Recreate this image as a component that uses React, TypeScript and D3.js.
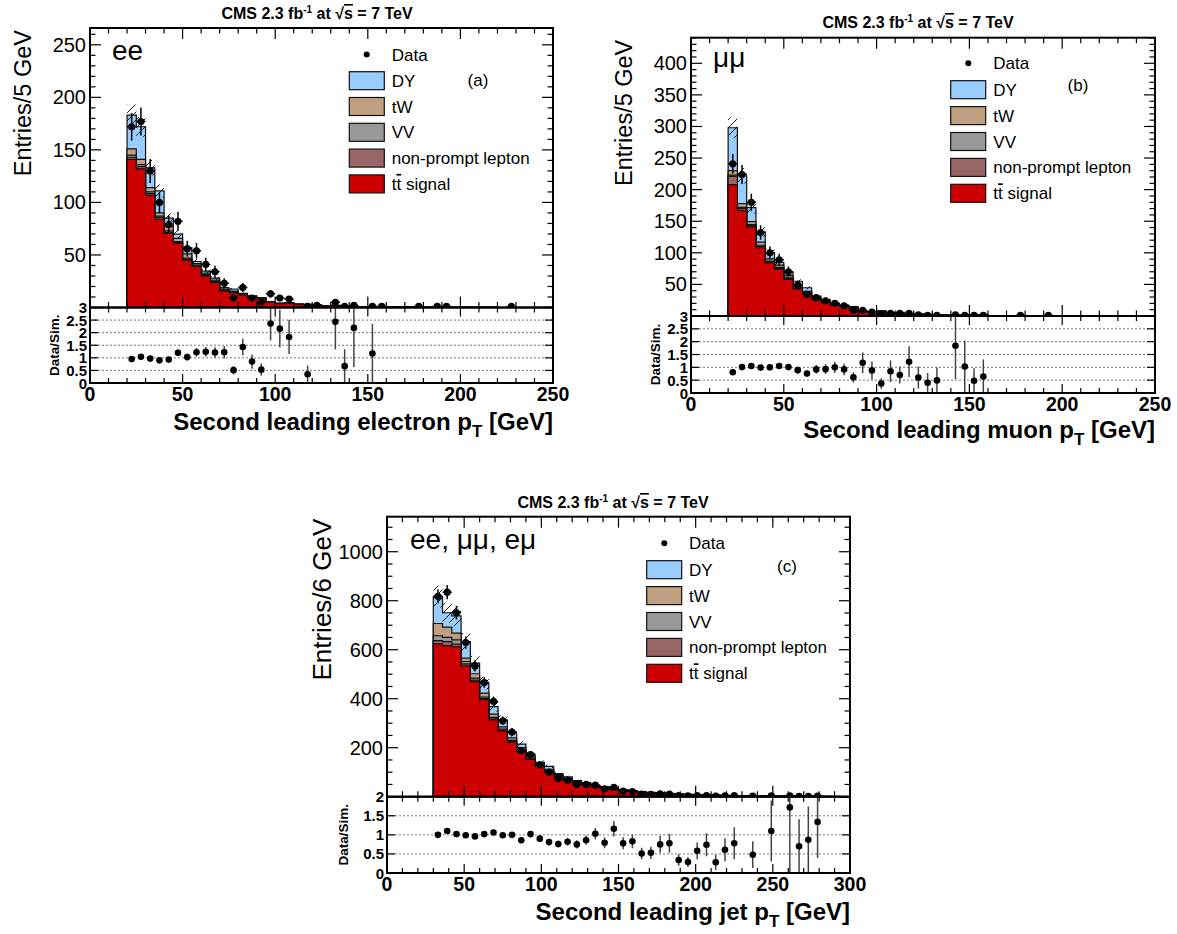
import React from "react";
import * as d3 from "d3";

const FONT = "'Liberation Sans', Arial, Helvetica, sans-serif";
const C_TT = "#cc0000";
const C_NP = "#996666";
const C_VV = "#999999";
const C_TW = "#c0a080";
const C_DY = "#99ccff";

// ---------------- Panel (a): ee, second leading electron pT (5 GeV bins from 20 GeV)
const eeBinStart = 20;
const eeBinWidth = 5;
const eeTtbar = [141, 132, 107, 84, 70.5, 61, 45, 39, 30, 24, 15.7, 14.2, 11.9, 9.6, 8.5, 5.0, 3.6, 3.9, 3.0, 2.6, 2.2, 1.8, 1.9, 1.5, 0.9, 0.9, 0.85, 0.5, 0.4, 0.35, 0.3, 0.25, 0.2, 0.2, 0.15, 0.1, 0.1, 0.08, 0.06, 0.05];
const eeNonPrompt = [2, 2, 1.5, 1.5, 1, 0.8, 0.8, 0.5, 0.5, 0.3, 0.3, 0.2, 0.2, 0.1, 0.1, 0.1];
const eeVV = [2, 2, 1.5, 1.5, 1.5, 1, 1.2, 0.8, 0.7, 0.5, 0.5, 0.4, 0.3, 0.3, 0.2, 0.2, 0.1, 0.1, 0.1, 0.1];
const eeTW = [6, 5, 4, 3, 4, 3, 4, 1.5, 1.5, 1.2, 1, 0.8, 0.6, 0.6, 0.5, 0.4, 0.3, 0.3, 0.2, 0.2, 0.1, 0.1, 0.15];
const eeDY = [32, 31, 19, 21, 8, 4, 6, 2, 2, 2, 1.5, 2, 0.5, 0.4, 0.2, 0, 0.1, 0.1];
const eeData = [172, 177, 130, 100, 79, 82, 56, 54, 41, 34, 23, 9, 19, 9, 5, 13, 9, 8, 0, 1, 2, 0, 5, 1, 2, 0, 1, 1, 0, 0, 0, 1, 0, 1, 1, 0, 0, 0, 0, 0, 0, 1];
const eeRatio = [0.95, 1.04, 0.97, 0.9, 0.93, 1.2, 1.03, 1.22, 1.24, 1.21, 1.22, 0.51, 1.43, 0.85, 0.53, 2.36, 2.16, 1.83, null, 0.35, null, null, 2.43, 0.67, 2.19, null, 1.17];
const eeRatioErr = [0.07, 0.07, 0.08, 0.09, 0.1, 0.13, 0.14, 0.17, 0.19, 0.21, 0.25, 0.17, 0.33, 0.28, 0.24, 0.67, 0.75, 0.68, null, 0.35, null, null, 1.1, 0.67, 1.55, null, 1.17];

// ---------------- Panel (b): mumu, second leading muon pT (5 GeV bins from 20 GeV)
const mmBinStart = 20;
const mmBinWidth = 5;
const mmTtbar = [208, 167, 141, 108, 84, 74, 58, 43, 35, 26, 21.5, 17, 14.8, 12.6, 6.5, 5.8, 7, 4.0, 5.0, 2.9, 2.9, 2.2, 1.8, 1.6, 1.1, 0.97, 2.1, 1.56, 0.6, 0.5, 0.4, 0.3, 0.25, 0.2, 0.15, 0.1, 0.08, 0.06];
const mmNonPrompt = [13, 3, 2, 2, 1.5, 1.5, 1.3, 1, 0.8, 0.5, 0.4, 0.3, 0.2, 0.2, 0.1];
const mmVV = [2, 2, 1.5, 2, 1.5, 1.5, 1.2, 1, 0.8, 0.6, 0.5, 0.4, 0.4, 0.3, 0.2, 0.2, 0.2, 0.1, 0.1, 0.1, 0.1, 0.1];
const mmTW = [7, 6, 5, 5, 3.5, 3.5, 3.3, 3, 2.5, 2, 1.6, 1.3, 1.1, 0.9, 0.5, 0.5, 0.5, 0.4, 0.4, 0.3, 0.3, 0.2, 0.2];
const mmDY = [68, 44, 22, 16, 9.5, 4.5, 5.5, 7, 5.6, 2.4, 1.8, 1, 0.9, 0.8, 0.3, 0.3, 0.4, 0.2, 0.2];
const mmData = [241, 224, 180, 132, 100, 89, 70, 49, 34, 29, 24, 20, 16, 9, 9, 6, 3, 4, 4, 4, 2, 1, 1, 0, 2, 1, 1, 1, 0, 0, 0, 1, 0, 0, 1];
const mmRatio = [0.81, 1.01, 1.05, 0.99, 1.0, 1.05, 1.01, 0.89, 0.76, 0.92, 0.93, 1.0, 0.92, 0.61, 1.18, 0.88, 0.37, 0.85, 0.7, 1.22, 0.6, 0.4, 0.49, null, 1.84, 1.03, 0.48, 0.64];
const mmRatioErr = [0.05, 0.07, 0.08, 0.09, 0.1, 0.11, 0.12, 0.13, 0.13, 0.17, 0.19, 0.22, 0.23, 0.2, 0.4, 0.35, 0.2, 0.42, 0.33, 0.6, 0.43, 0.38, 0.5, null, 1.3, 1.02, 0.48, 0.67];

// ---------------- Panel (c): all channels, second leading jet pT (6 GeV bins from 30 GeV)
const jjBinStart = 30;
const jjBinWidth = 6;
const jjTtbar = [624, 617, 613, 534, 470, 396, 314, 269, 223, 185, 152, 124, 104, 83.5, 70, 56, 50, 40, 35, 28, 25, 21.5, 18, 15.5, 13.3, 11.6, 9.9, 8.6, 7.3, 6.3, 5.4, 4.6, 4.0, 3.4, 2.9, 2.5, 2.1, 1.8, 1.5, 1.4, 1.2, 1.0, 0.9, 0.8, 0.7];
const jjNonPrompt = [13, 16, 10, 8, 6, 5, 4, 3, 3, 2, 2, 1.5, 1, 1, 0.8, 0.7, 0.6, 0.5, 0.4, 0.3, 0.3, 0.3, 0.2, 0.2, 0.2, 0.1, 0.1, 0.1, 0.1, 0.1, 0.1, 0.1];
const jjVV = [20, 17, 17, 10, 8, 6, 6, 4, 4, 4, 3, 2.5, 2, 1.5, 1.5, 1.3, 1.1, 1, 0.9, 0.7, 0.6, 0.5, 0.4, 0.3, 0.3, 0.3, 0.2, 0.2, 0.2, 0.1, 0.1, 0.1, 0.1, 0.1, 0.1, 0.1];
const jjTW = [50, 42, 28, 14, 18, 16, 13, 9, 10, 9, 7, 6, 5, 4, 3.7, 3.5, 3, 2.6, 2.3, 2, 1.6, 1.4, 1.2, 1.0, 0.9, 0.8, 0.7, 0.6, 0.5, 0.4, 0.4, 0.3, 0.3, 0.3, 0.2, 0.2, 0.2, 0.2, 0.1, 0.1, 0.1, 0.1, 0.1, 0.1, 0.1];
const jjDY = [110, 59, 70, 67, 43, 41, 31, 29, 20, 15, 8, 6.5, 12, 4.5, 5, 4.5, 3.3, 1.9, 2.4, 2, 1.5, 1.3, 1.2, 1, 0.8, 0.7, 0.6, 0.5, 0.4, 0.4, 0.3, 0.3, 0.2, 0.2, 0.2, 0.1, 0.1, 0.1, 0.1, 0.1, 0.1, 0.1, 0.1, 0.1, 0.1];
const jjData = [818, 835, 751, 629, 534, 466, 389, 310, 264, 188, 172, 130, 100, 74, 67, 50, 50, 47, 32, 38, 23, 21, 11, 10, 12, 11, 4, 3, 5, 5, 2, 3, 4, 0, 2, 0, 3, 0, 3, 1, 1, 2];
const jjRatio = [1.0, 1.1, 1.02, 0.99, 0.96, 1.02, 1.06, 0.99, 1.0, 0.86, 1.02, 0.9, 0.81, 0.76, 0.82, 0.75, 0.86, 1.03, 0.79, 1.16, 0.78, 0.83, 0.51, 0.53, 0.75, 0.78, 0.34, 0.29, 0.58, 0.74, 0.28, 0.61, 0.78, null, 0.48, null, 1.1, null, 1.72, 0.7, 0.87, 1.34];
const jjRatioErr = [0.04, 0.04, 0.04, 0.04, 0.05, 0.05, 0.06, 0.06, 0.07, 0.07, 0.08, 0.08, 0.09, 0.09, 0.1, 0.11, 0.12, 0.15, 0.14, 0.2, 0.16, 0.18, 0.15, 0.16, 0.22, 0.25, 0.15, 0.13, 0.22, 0.3, 0.2, 0.3, 0.42, null, 0.35, null, 0.8, null, 1.72, 0.71, 0.87, 0.95];

const legendNames = ["DY", "tW", "VV", "non-prompt lepton", "tt signal"];
const legendColors = [C_DY, C_TW, C_VV, C_NP, C_TT];
const UNC = 0.055;

type Cfg = {
  binStart: number; binWidth: number; xMax: number;
  tt: number[]; np: number[]; vv: number[]; tw: number[]; dy: number[];
  data: number[]; ratio: (number | null)[]; ratioErr: (number | null)[];
  left: number; right: number; top: number; mainBottom: number; ratioBottom: number;
  yMax: number; yMajor: number; yMinor: number; rMax: number;
  yTitle: string; yTitleX: number; yTitleSize: number; dataSimX: number;
  xTitle: string; xTitleY: number; xLabelY: number;
  titleX: number; titleY: number;
  chan: string; chanX: number; chanY: number;
  lgMarkerX: number; lgDataY: number; lgBoxX: number; lgFirstTop: number; lgStep: number; lgLabelX: number;
  tag: string; tagX: number; tagY: number; id: string;
};

function Panel({ c }: { c: Cfg }) {
  const x = d3.scaleLinear().domain([0, c.xMax]).range([c.left, c.right]);
  const y = d3.scaleLinear().domain([0, c.yMax]).range([c.mainBottom, c.top]);
  const yr = d3.scaleLinear().domain([0, c.rMax]).range([c.ratioBottom, c.mainBottom]);
  const layers = [c.tt, c.np, c.vv, c.tw, c.dy];
  const colors = [C_TT, C_NP, C_VV, C_TW, C_DY];
  const n = Math.max(...layers.map((l) => l.length));
  const cum: number[][] = layers.map(() => []);
  for (let i = 0; i < n; i++) {
    let s = 0;
    layers.forEach((L, li) => {
      s += L[i] ?? 0;
      cum[li].push(s);
    });
  }
  const edge = (i: number) => c.binStart + i * c.binWidth;
  const area = d3
    .area<number>()
    .curve(d3.curveStepAfter)
    .x((_, i) => x(edge(i)))
    .y0(y(0))
    .y1((v) => y(v));
  const total = cum[4];

  const xMinor = d3.range(0, c.xMax + 1e-6, 10);
  const xMajor = d3.range(0, c.xMax + 1e-6, 50);
  const yMinor = d3.range(0, c.yMax, c.yMinor);
  const yMajorT = d3.range(0, c.yMax, c.yMajor);
  const rTicks = d3.range(0, c.rMax + 1e-6, 0.5);

  const mainClip = `main-${c.id}`;
  const ratioClip = `ratio-${c.id}`;

  return (
    <g fontFamily={FONT}>
      <defs>
        <clipPath id={mainClip}>
          <rect x={c.left} y={c.top} width={c.right - c.left} height={c.mainBottom - c.top} />
        </clipPath>
        <clipPath id={ratioClip}>
          <rect x={c.left} y={c.mainBottom} width={c.right - c.left} height={c.ratioBottom - c.mainBottom} />
        </clipPath>
      </defs>

      {/* stacked histograms */}
      <g clipPath={`url(#${mainClip})`}>
        {[4, 3, 2, 1, 0].map((li) => (
          <path
            key={li}
            d={area([...cum[li], cum[li][n - 1]]) || ""}
            fill={colors[li]}
            stroke="#111"
            strokeWidth={1.2}
          />
        ))}
        {total.map((t, i) =>
          t > 0 ? (
            <rect
              key={"h" + i}
              x={x(edge(i))}
              width={x(edge(i + 1)) - x(edge(i))}
              y={y(t * (1 + UNC))}
              height={y(t * (1 - UNC)) - y(t * (1 + UNC))}
              fill="url(#hatch)"
            />
          ) : null
        )}
        {c.data.map((d, i) => {
          if (!d) return null;
          const cx = x(edge(i) + c.binWidth / 2);
          const e = Math.sqrt(d);
          return (
            <g key={"d" + i}>
              <line x1={cx} x2={cx} y1={y(d + e)} y2={y(Math.max(0, d - e))} stroke="#000" strokeWidth={1.5} />
              <line x1={x(edge(i))} x2={x(edge(i + 1))} y1={y(d)} y2={y(d)} stroke="#000" strokeWidth={1.5} />
              <circle cx={cx} cy={y(d)} r={3.6} fill="#000" />
            </g>
          );
        })}
      </g>

      {/* main frame & ticks */}
      <rect x={c.left} y={c.top} width={c.right - c.left} height={c.mainBottom - c.top} fill="none" stroke="#000" strokeWidth={2} />
      {xMinor.map((v) => {
        const maj = v % 50 === 0;
        const L = maj ? 11 : 5.5;
        return (
          <g key={"xt" + v} stroke="#000" strokeWidth={1.2}>
            <line x1={x(v)} x2={x(v)} y1={c.top} y2={c.top + L} />
            <line x1={x(v)} x2={x(v)} y1={c.mainBottom} y2={c.mainBottom - L} />
          </g>
        );
      })}
      {yMinor.map((v) => {
        const maj = Math.abs(v % c.yMajor) < 1e-6;
        const L = maj ? 11 : 5.5;
        return (
          <g key={"yt" + v} stroke="#000" strokeWidth={1.2}>
            <line x1={c.left} x2={c.left + L} y1={y(v)} y2={y(v)} />
            <line x1={c.right} x2={c.right - L} y1={y(v)} y2={y(v)} />
          </g>
        );
      })}
      {yMajorT.filter((v) => v > 0).map((v) => (
        <text key={"yl" + v} x={c.left - 4} y={y(v) + 7} textAnchor="end" fontSize={20} fill="#000">
          {v}
        </text>
      ))}
      <text
        transform={`translate(${c.yTitleX},${c.top + 2}) rotate(-90)`}
        textAnchor="end"
        fontSize={c.yTitleSize}
        fill="#000"
      >
        {c.yTitle}
      </text>

      {/* title */}
      <text x={c.titleX} y={c.titleY} textAnchor="middle" fontSize={16} fontWeight="bold" fill="#000">
        CMS 2.3 fb<tspan dy={-6} fontSize={10}>-1</tspan>
        <tspan dy={6}> at </tspan>√<tspan style={{ textDecoration: "overline" }}>s</tspan> = 7 TeV
      </text>

      {/* channel label */}
      <text x={c.chanX} y={c.chanY} fontSize={28} fill="#000">
        {c.chan}
      </text>

      {/* legend */}
      <circle cx={c.lgMarkerX} cy={c.lgDataY} r={3} fill="#000" />
      <text x={c.lgLabelX} y={c.lgDataY + 6} fontSize={17} fill="#000">Data</text>
      {legendNames.map((name, i) => {
        const top = c.lgFirstTop + i * c.lgStep;
        return (
          <g key={name}>
            <rect x={c.lgBoxX} y={top} width={35} height={18} fill={legendColors[i]} stroke="#111" strokeWidth={1.2} />
            <text x={c.lgLabelX} y={top + 15} fontSize={17} fill="#000">
              {i === 4 ? (
                <>
                  t<tspan style={{ textDecoration: "overline" }}>t</tspan> signal
                </>
              ) : (
                name
              )}
            </text>
          </g>
        );
      })}
      <text x={c.tagX} y={c.tagY} textAnchor="middle" fontSize={17} fill="#000">{c.tag}</text>

      {/* ratio panel */}
      {rTicks.filter((v) => v > 0 && v < c.rMax).map((v) => (
        <line key={"rg" + v} x1={c.left} x2={c.right} y1={yr(v)} y2={yr(v)} stroke="#777" strokeWidth={1} strokeDasharray="2,2" />
      ))}
      <g clipPath={`url(#${ratioClip})`}>
        {c.ratio.map((r, i) => {
          if (r === null || r === undefined) return null;
          const cx = x(edge(i) + c.binWidth / 2);
          const e = c.ratioErr[i] ?? 0;
          return (
            <g key={"r" + i}>
              <line x1={cx} x2={cx} y1={yr(r + e)} y2={yr(Math.max(0, r - e))} stroke="#444" strokeWidth={1.5} />
              <circle cx={cx} cy={yr(r)} r={3.3} fill="#000" />
            </g>
          );
        })}
      </g>
      <rect x={c.left} y={c.mainBottom} width={c.right - c.left} height={c.ratioBottom - c.mainBottom} fill="none" stroke="#000" strokeWidth={2} />
      {xMinor.map((v) => {
        const maj = v % 50 === 0;
        const L = maj ? 9 : 5;
        return (
          <g key={"rxt" + v} stroke="#000" strokeWidth={1.2}>
            <line x1={x(v)} x2={x(v)} y1={c.mainBottom} y2={c.mainBottom + L} />
            <line x1={x(v)} x2={x(v)} y1={c.ratioBottom} y2={c.ratioBottom - L} />
          </g>
        );
      })}
      {rTicks.map((v) => (
        <g key={"ryt" + v} stroke="#000" strokeWidth={1.2}>
          <line x1={c.left} x2={c.left + 8} y1={yr(v)} y2={yr(v)} />
          <line x1={c.right} x2={c.right - 8} y1={yr(v)} y2={yr(v)} />
        </g>
      ))}
      {rTicks.map((v) => (
        <text key={"ryl" + v} x={c.left - 3} y={yr(v) + 5.5} textAnchor="end" fontSize={15} fontWeight="bold" fill="#000">
          {d3.format("~g")(v)}
        </text>
      ))}
      <text
        transform={`translate(${c.dataSimX},${(c.mainBottom + c.ratioBottom) / 2}) rotate(-90)`}
        textAnchor="middle"
        fontSize={13.5}
        fontWeight="bold"
        fill="#000"
      >
        Data/Sim.
      </text>
      {xMajor.map((v) => (
        <text key={"xl" + v} x={x(v)} y={c.xLabelY} textAnchor="middle" fontSize={19.5} fontWeight="bold" fill="#000">
          {v}
        </text>
      ))}
      <text x={c.right} y={c.xTitleY} textAnchor="end" fontSize={24} fontWeight="bold" fill="#000">
        {c.xTitle} p<tspan dy={7} fontSize={17}>T</tspan>
        <tspan dy={-7}> [GeV]</tspan>
      </text>
    </g>
  );
}

const panelA: Cfg = {
  id: "a", binStart: eeBinStart, binWidth: eeBinWidth, xMax: 250,
  tt: eeTtbar, np: eeNonPrompt, vv: eeVV, tw: eeTW, dy: eeDY,
  data: eeData, ratio: eeRatio, ratioErr: eeRatioErr,
  left: 90, right: 553, top: 28, mainBottom: 307.5, ratioBottom: 383,
  yMax: 266, yMajor: 50, yMinor: 10, rMax: 3,
  yTitle: "Entries/5 GeV", yTitleX: 30.5, yTitleSize: 23.5, dataSimX: 59,
  xTitle: "Second leading electron", xTitleY: 430, xLabelY: 401,
  titleX: 317, titleY: 19,
  chan: "ee", chanX: 112, chanY: 60,
  lgMarkerX: 366.7, lgDataY: 54.5, lgBoxX: 349.3, lgFirstTop: 71.7, lgStep: 25.8, lgLabelX: 391.7,
  tag: "(a)", tagX: 478, tagY: 86,
};

const panelB: Cfg = {
  id: "b", binStart: mmBinStart, binWidth: mmBinWidth, xMax: 250,
  tt: mmTtbar, np: mmNonPrompt, vv: mmVV, tw: mmTW, dy: mmDY,
  data: mmData, ratio: mmRatio, ratioErr: mmRatioErr,
  left: 691, right: 1155, top: 37.7, mainBottom: 316, ratioBottom: 393,
  yMax: 440.5, yMajor: 50, yMinor: 10, rMax: 3,
  yTitle: "Entries/5 GeV", yTitleX: 631.5, yTitleSize: 23.5, dataSimX: 660,
  xTitle: "Second leading muon", xTitleY: 438, xLabelY: 411,
  titleX: 918, titleY: 28,
  chan: "μμ", chanX: 713, chanY: 67,
  lgMarkerX: 968.3, lgDataY: 63.3, lgBoxX: 950.7, lgFirstTop: 80.7, lgStep: 25.9, lgLabelX: 993.3,
  tag: "(b)", tagX: 1078, tagY: 91,
};

const panelC: Cfg = {
  id: "c", binStart: jjBinStart, binWidth: jjBinWidth, xMax: 300,
  tt: jjTtbar, np: jjNonPrompt, vv: jjVV, tw: jjTW, dy: jjDY,
  data: jjData, ratio: jjRatio, ratioErr: jjRatioErr,
  left: 387, right: 850, top: 516.7, mainBottom: 796.7, ratioBottom: 873,
  yMax: 1143, yMajor: 200, yMinor: 50, rMax: 2,
  yTitle: "Entries/6 GeV", yTitleX: 330.5, yTitleSize: 26, dataSimX: 348,
  xTitle: "Second leading jet", xTitleY: 920, xLabelY: 891,
  titleX: 613, titleY: 508,
  chan: "ee, μμ, eμ", chanX: 410, chanY: 549,
  lgMarkerX: 664.3, lgDataY: 543.3, lgBoxX: 646.7, lgFirstTop: 560.7, lgStep: 25.9, lgLabelX: 689,
  tag: "(c)", tagX: 787, tagY: 572,
};

export default function App() {
  return (
    <svg
      width={1177}
      height={934}
      viewBox="0 0 1177 934"
      style={{ position: "absolute", left: 0, top: 0, background: "#fff" }}
    >
      <defs>
        <pattern id="hatch" patternUnits="userSpaceOnUse" width={8} height={8}>
          <path d="M-1,1 L1,-1 M0,8 L8,0 M7,9 L9,7" stroke="#000" strokeWidth={0.9} />
        </pattern>
      </defs>
      <rect x={0} y={0} width={1177} height={934} fill="#fff" />
      <Panel c={panelA} />
      <Panel c={panelB} />
      <Panel c={panelC} />
    </svg>
  );
}
